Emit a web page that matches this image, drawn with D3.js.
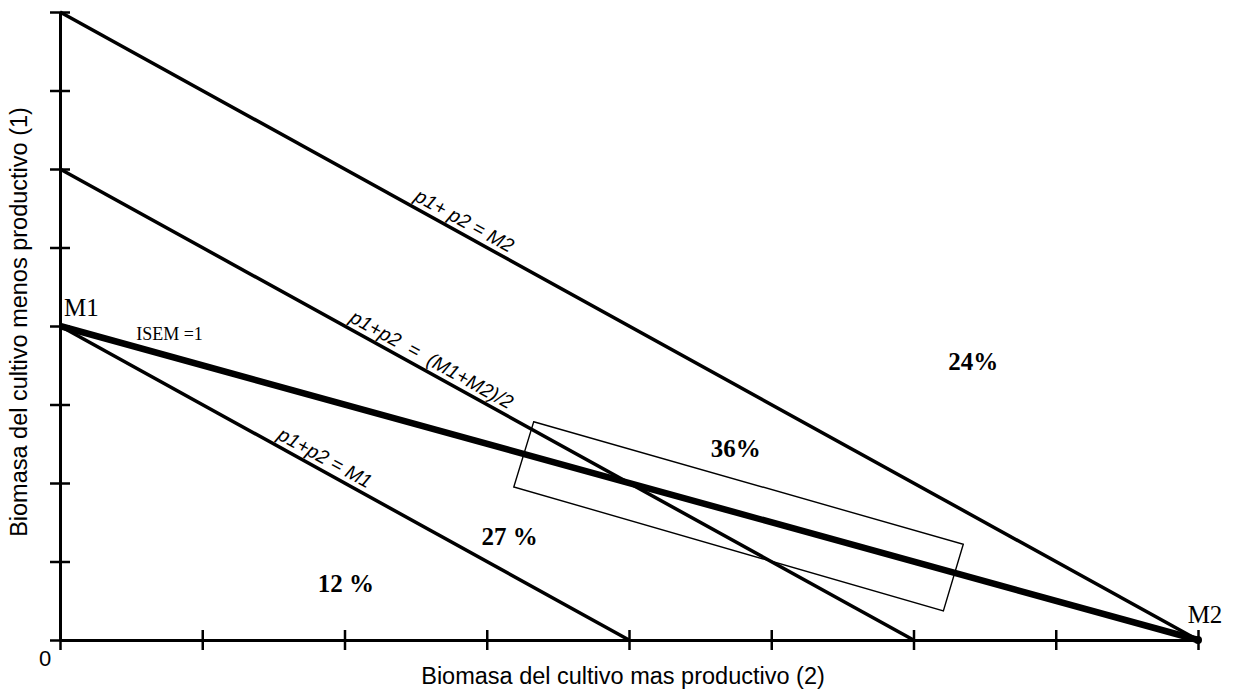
<!DOCTYPE html>
<html>
<head>
<meta charset="utf-8">
<script src="https://cdn.jsdelivr.net/npm/d3@7"></script>
<style>
  html, body { margin: 0; padding: 0; background: #fff; }
  svg { display: block; }
</style>
</head>
<body>
<svg id="chart" width="1233" height="692"></svg>
<script>
// Biomass of the two crops: iso-yield lines and the ISEM = 1 line
const M1 = 4;                       // monoculture yield, less productive crop
const M2 = 8;                       // monoculture yield, more productive crop
const axisTicks = [0, 1, 2, 3, 4, 5, 6, 7, 8];

const isoTotals = [M2, (M1 + M2) / 2, M1];
const isoLabels = ["p1+ p2 = M2", "p1+p2  =  (M1+M2)/2", "p1+p2 = M1"];
const isoLabelAt = [2.80, 2.57, 1.82];      // position of each label along its line (x units)

const isemPoints = [[0, M1], [M2, 0]];
const isemLabel = "ISEM =1";

// corners of the highlighted band around the crossing
const boxCorners = [[3.33, 2.78], [6.35, 1.22], [6.21, 0.37], [3.19, 1.95]];

const regionLabels = ["12 %", "27 %", "36%", "24%"];
const regionX = [2.01, 3.16, 4.75, 6.42];
const regionY = [0.61, 1.21, 2.33, 3.44];

const xTitle = "Biomasa del cultivo mas productivo (2)";
const yTitle = "Biomasa del cultivo menos productivo (1)";

const svg = d3.select("#chart");
const x = d3.scaleLinear().domain([0, 8]).range([60, 1198]);
const y = d3.scaleLinear().domain([0, 8]).range([640, 12]);

const serif = "'Liberation Serif', 'Times New Roman', serif";
const sans = "'Liberation Sans', Arial, sans-serif";

// axes with ticks crossing the line
const xAxis = svg.append("g")
  .attr("transform", `translate(0,${y(0)})`)
  .call(d3.axisBottom(x).tickValues(axisTicks).tickFormat("").tickSizeOuter(0));
xAxis.selectAll(".tick line").attr("y1", -10).attr("y2", 10);

const yAxis = svg.append("g")
  .attr("transform", `translate(${x(0)},0)`)
  .call(d3.axisLeft(y).tickValues(axisTicks).tickFormat("").tickSizeOuter(0));
yAxis.selectAll(".tick line").attr("x1", -10).attr("x2", 10);

svg.selectAll(".domain").attr("stroke", "#000").attr("stroke-width", 3);
svg.selectAll(".tick line").attr("stroke", "#000").attr("stroke-width", 2.5);

// iso-yield lines p1 + p2 = constant
const line = d3.line().x(d => x(d[0])).y(d => y(d[1]));
const angle = Math.atan2(y(0) - y(8), x(8) - x(0)) * 180 / Math.PI;

isoTotals.forEach((t, i) => {
  svg.append("path")
    .attr("d", line([[0, t], [t, 0]]))
    .attr("fill", "none")
    .attr("stroke", "#000")
    .attr("stroke-width", 3.5);

  const lx = isoLabelAt[i];
  const ly = t - lx;
  svg.append("text")
    .attr("transform", `translate(${x(lx)},${y(ly)}) rotate(${angle})`)
    .attr("x", 0)
    .attr("y", -6)
    .attr("text-anchor", "middle")
    .attr("font-family", sans)
    .attr("font-style", "italic")
    .attr("font-size", 19.5)
    .attr("xml:space", "preserve")
    .style("white-space", "pre")
    .text(isoLabels[i]);
});

// highlighted band
svg.append("path")
  .attr("d", line(boxCorners) + "Z")
  .attr("fill", "none")
  .attr("stroke", "#000")
  .attr("stroke-width", 1.4);

// ISEM = 1 line from M1 to M2
svg.append("path")
  .attr("d", line(isemPoints))
  .attr("fill", "none")
  .attr("stroke", "#000")
  .attr("stroke-width", 6.5);

svg.append("circle")
  .attr("cx", x(M2)).attr("cy", y(0)).attr("r", 4).attr("fill", "#000");

svg.append("text")
  .attr("x", x(0.77)).attr("y", y(3.82))
  .attr("text-anchor", "middle")
  .attr("font-family", serif)
  .attr("font-size", 18)
  .text(isemLabel);

// end point names
svg.append("text")
  .attr("x", x(0) + 4).attr("y", y(M1) - 10)
  .attr("font-family", serif).attr("font-size", 25)
  .text("M1");
svg.append("text")
  .attr("x", x(M2) + 7).attr("y", y(0) - 17)
  .attr("text-anchor", "middle")
  .attr("font-family", serif).attr("font-size", 25)
  .text("M2");

// share of each region
svg.selectAll(".region")
  .data(regionLabels)
  .join("text")
  .attr("class", "region")
  .attr("x", (d, i) => x(regionX[i]))
  .attr("y", (d, i) => y(regionY[i]))
  .attr("text-anchor", "middle")
  .attr("font-family", serif)
  .attr("font-weight", "bold")
  .attr("font-size", 25)
  .attr("xml:space", "preserve")
  .style("white-space", "pre")
  .text(d => d);

// origin and axis titles
svg.append("text")
  .attr("x", 45).attr("y", 666)
  .attr("text-anchor", "middle")
  .attr("font-family", sans).attr("font-size", 22)
  .text("0");

svg.append("text")
  .attr("x", 623).attr("y", 684)
  .attr("text-anchor", "middle")
  .attr("font-family", sans).attr("font-size", 23.5)
  .text(xTitle);

svg.append("text")
  .attr("transform", "translate(27,322) rotate(-90)")
  .attr("text-anchor", "middle")
  .attr("font-family", sans).attr("font-size", 23.5)
  .text(yTitle);
</script>
</body>
</html>
